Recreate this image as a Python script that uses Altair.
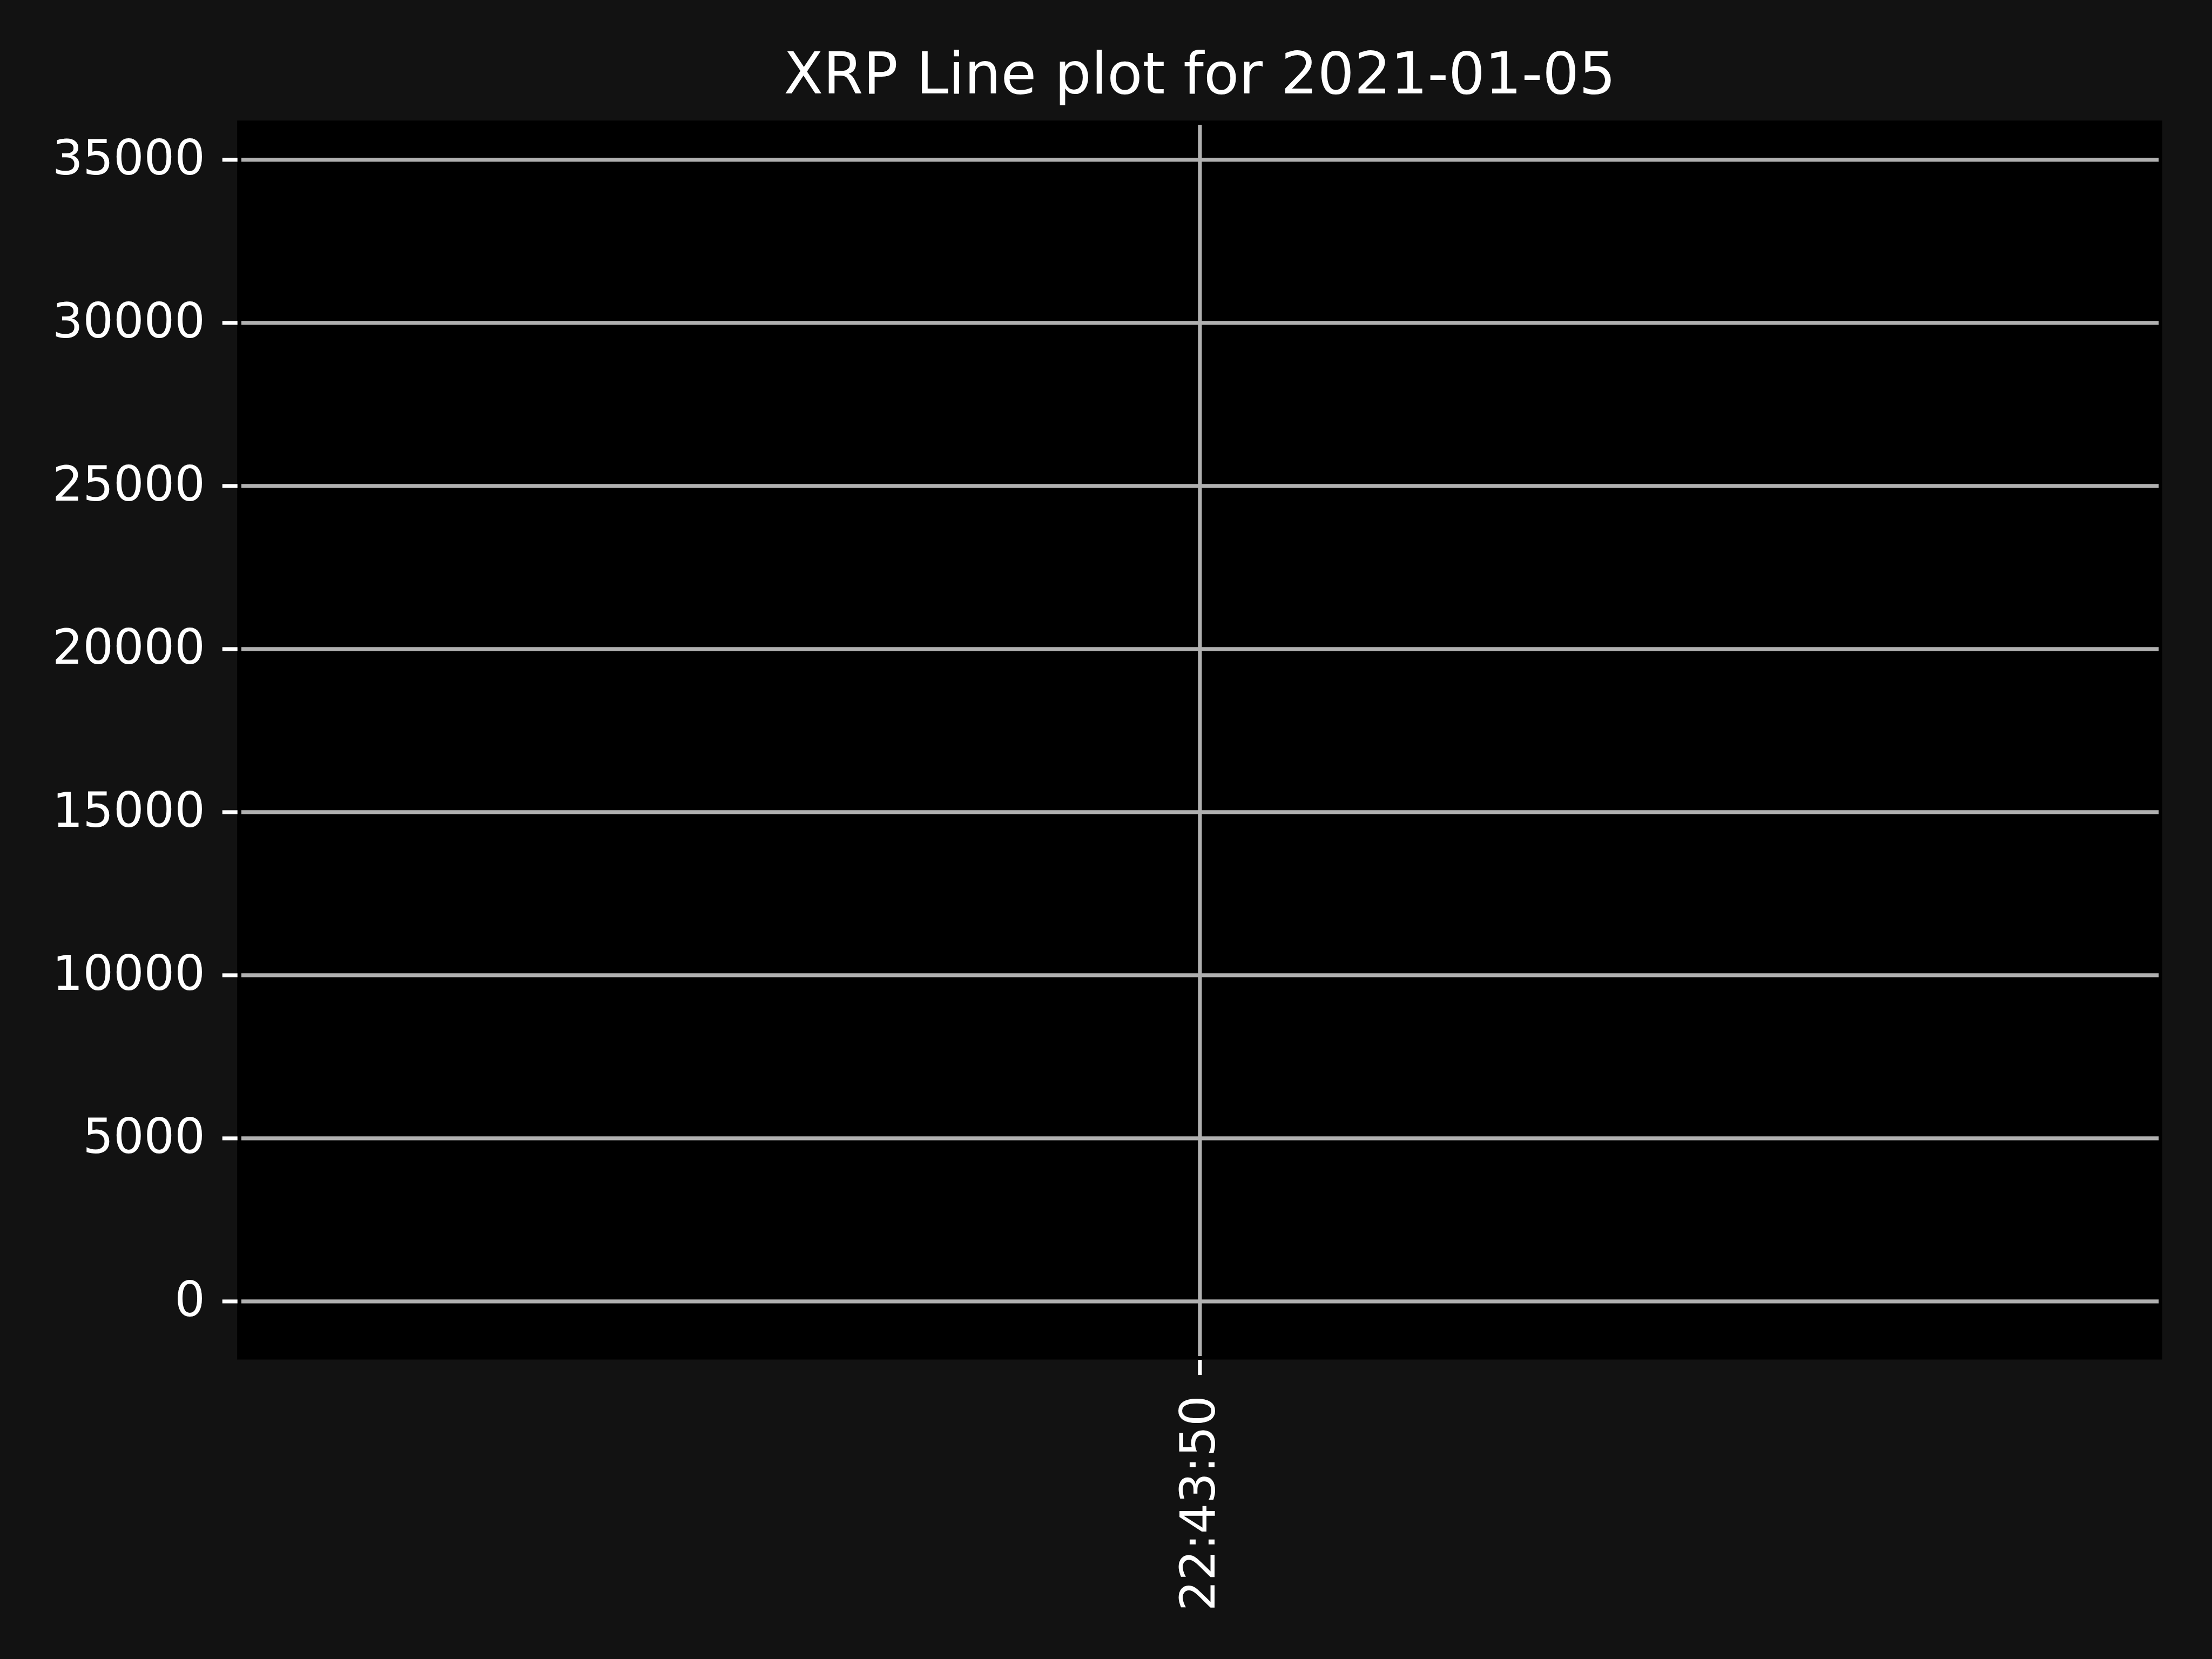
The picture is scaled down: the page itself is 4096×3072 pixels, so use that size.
import altair as alt
import pandas as pd

# Data
times = ["22:43:50", "22:43:50"]
values = [0, 34460]
y_ticks = [0, 5000, 10000, 15000, 20000, 25000, 30000, 35000]
y_domain = [-1669, 36073]
title_text = "XRP Line plot for 2021-01-05"

df = pd.DataFrame({"time": times, "value": values})

W = 3550.4
H = 2280.0
INSET = 7.2
BG = "#121212"
GRID = "#b0b0b0"
FONT = "DejaVu Sans"

bg_rect = alt.Chart(alt.Data(values=[{"a": 1}])).mark_rect(color="black").encode(
    x=alt.value(-INSET), x2=alt.value(W + INSET),
    y=alt.value(-INSET), y2=alt.value(H + INSET),
)

line = alt.Chart(df).mark_line(color=GRID, strokeWidth=5, clip=False).encode(
    x=alt.X("time:O", title=None,
            axis=alt.Axis(labelAngle=270, labelAlign="right", labelBaseline="middle",
                          labelPadding=38, offset=INSET, grid=True, zindex=2,
                          labelLimit=2000)),
    y=alt.Y("value:Q", title=None,
            scale=alt.Scale(domain=y_domain, nice=False, zero=False),
            axis=alt.Axis(values=y_ticks, format="d", labelPadding=32, offset=INSET,
                          grid=True, zindex=2, labelLimit=2000)),
)

chart = alt.layer(bg_rect, line).properties(
    width=W,
    height=H,
    title=alt.TitleParams(title_text, fontSize=106.7, font=FONT, fontWeight="normal",
                          color="white", anchor="middle", frame="group",
                          baseline="alphabetic", offset=-56.6),
    autosize=alt.AutoSizeParams(type="none"),
    padding={"left": 446.4, "top": 230.4, "right": 4096 - 446.4 - W, "bottom": 3072 - 230.4 - H},
    background=BG,
).configure_view(
    stroke=None, fill="black"
).configure_axis(
    domain=False,
    gridColor=GRID,
    gridWidth=7.1,
    gridOpacity=1,
    tickColor="white",
    tickWidth=7.1,
    tickSize=28,
    labelColor="white",
    labelFont=FONT,
    labelFontSize=88.9,
    labelOverlap=False,
    labelFlush=False,
)

chart.save("out.html", embed_options={"renderer": "svg", "actions": False})
